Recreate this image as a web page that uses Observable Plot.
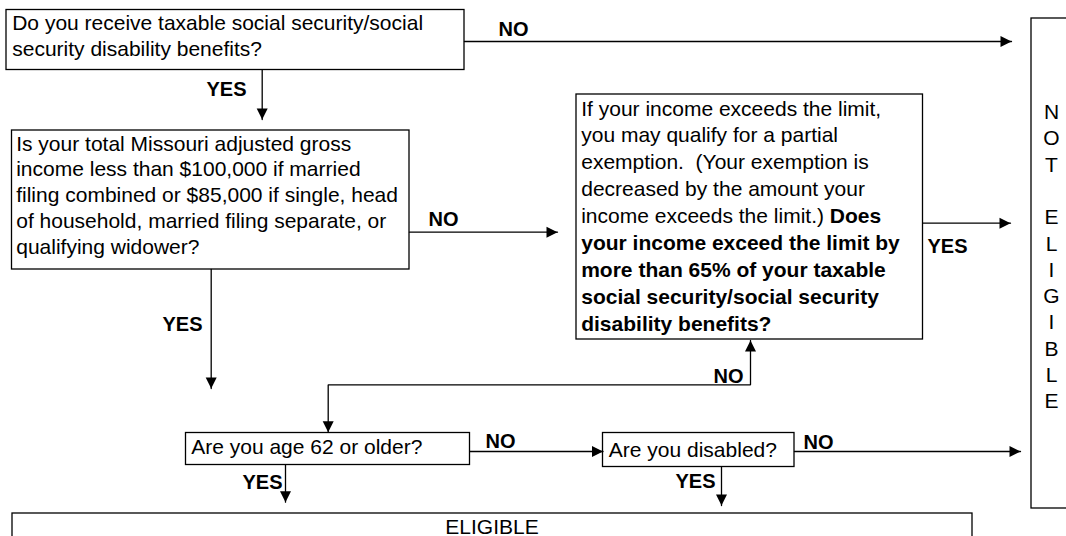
<!DOCTYPE html>
<html><head><meta charset="utf-8">
<script src="https://cdn.jsdelivr.net/npm/d3@7"></script>
<script src="https://cdn.jsdelivr.net/npm/@observablehq/plot@0.6"></script>
<style>
html,body{margin:0;padding:0;background:#fff;}
#chart svg{display:block;overflow:hidden;}
</style></head><body><div id="chart"></div>
<script>
const FONT = "Arial, 'Liberation Sans', Helvetica, sans-serif";

// ---------- chart content (texts) ----------
const q1Lines = ["Do you receive taxable social security/social", "security disability benefits?"];
const q2Lines = ["Is your total Missouri adjusted gross", "income less than $100,000 if married",
  "filing combined or $85,000 if single, head", "of household, married filing separate, or", "qualifying widower?"];
const q3PlainLines = ["If your income exceeds the limit,", "you may qualify for a partial",
  "exemption.\u00a0 (Your exemption is", "decreased by the amount your", "income exceeds the limit.) "];
const q3BoldInline = "Does";
const q3BoldLines = ["your income exceed the limit by", "more than 65% of your taxable",
  "social security/social security", "disability benefits?"];
const q4Lines = ["Are you age 62 or older?"];
const q5Lines = ["Are you disabled?"];
const notEligibleLetters = ["N","O","T","","E","L","I","G","I","B","L","E"];
const eligibleText = "ELIGIBLE";
const answerLabels = ["NO","YES","NO","YES","YES","NO","NO","NO","YES","YES"];

// ---------- layout (chart coordinates) ----------
const boxLayout = [
  {x1: 6,     x2: 464,   y1: 9.5,   y2: 69.5},  // q1
  {x1: 11.5,  x2: 409,   y1: 130,   y2: 269},   // q2
  {x1: 576,   x2: 922.5, y1: 94,    y2: 339},   // q3
  {x1: 185.5, x2: 469.5, y1: 432.5, y2: 464.5}, // q4
  {x1: 602.5, x2: 794,   y1: 432.5, y2: 466.5}, // q5
  {x1: 1031,  x2: 1100,  y1: 18,    y2: 508},   // not eligible
  {x1: 12,    x2: 972,   y1: 513,   y2: 570}    // eligible
];
const blockLayout = [ // x, first baseline, line step
  {x: 11.7,  y: 29.5,  step: 25.8}, // q1
  {x: 15.7,  y: 150,   step: 25.8}, // q2
  {x: 580.7, y: 115,   step: 26.9}, // q3
  {x: 190.7, y: 453.5, step: 0},    // q4
  {x: 608.3, y: 456,   step: 0},    // q5
  {x: 1051,  y: 118.5, step: 26.3}, // not eligible (centered)
  {x: 491.5, y: 533,   step: 0}     // eligible (centered)
];
const connectorLayout = [
  {pts: [[464, 41], [1011, 41]], heads: ["end"]},
  {pts: [[261.7, 69.5], [261.7, 119]], heads: ["end"]},
  {pts: [[409, 231.7], [557, 231.7]], heads: ["end"]},
  {pts: [[210.7, 269], [210.7, 388]], heads: ["end"]},
  {pts: [[922.5, 222.7], [1010, 222.7]], heads: ["end"]},
  {pts: [[750, 340], [750, 384.3], [327.7, 384.3], [327.7, 431.7]], heads: ["start", "end"]},
  {pts: [[469.5, 451], [602.5, 451]], heads: ["end"]},
  {pts: [[794, 451], [1020, 451]], heads: ["end"]},
  {pts: [[285, 464.5], [285, 501.7]], heads: ["end"]},
  {pts: [[721, 466.5], [721, 505]], heads: ["end"]}
];
const labelLayout = [ // start x, baseline
  {x: 498, y: 35}, {x: 206, y: 95}, {x: 428, y: 225}, {x: 162, y: 330}, {x: 927, y: 252},
  {x: 713, y: 382.5}, {x: 485, y: 447.5}, {x: 803, y: 448}, {x: 242, y: 488}, {x: 675, y: 487}
];

// ---------- build tables ----------
const NORMAL_SIZE = 21, LABEL_SIZE = 20;
const ctx = document.createElement("canvas").getContext("2d");
ctx.font = `${NORMAL_SIZE}px ${FONT}`;

const plainRows = [], boldRows = [], centerRows = [];
function addBlock(lines, lay, target, start = 0) {
  lines.forEach((t, i) => { if (t) target.push({text: t, x: lay.x, y: lay.y + (i + start) * lay.step}); });
}
addBlock(q1Lines, blockLayout[0], plainRows);
addBlock(q2Lines, blockLayout[1], plainRows);
addBlock(q3PlainLines, blockLayout[2], plainRows);
const doesDx = ctx.measureText(q3PlainLines[4]).width;
const doesRow = [{text: q3BoldInline, x: blockLayout[2].x, y: blockLayout[2].y + 4 * blockLayout[2].step}];
addBlock(q3BoldLines, blockLayout[2], boldRows, 5);
addBlock(q4Lines, blockLayout[3], plainRows);
addBlock(q5Lines, blockLayout[4], plainRows);
addBlock(notEligibleLetters, blockLayout[5], centerRows);
addBlock([eligibleText], blockLayout[6], centerRows);

const labels = answerLabels.map((t, i) => ({text: t, ...labelLayout[i]}));

const linePts = [];
const heads = [];
connectorLayout.forEach((c, k) => {
  c.pts.forEach(([x, y]) => linePts.push({x, y, k}));
  const n = c.pts.length;
  const dir = (a, b) => Math.atan2(b[0] - a[0], -(b[1] - a[1])) * 180 / Math.PI;
  if (c.heads.includes("end")) heads.push({x: c.pts[n-1][0], y: c.pts[n-1][1], a: dir(c.pts[n-2], c.pts[n-1])});
  if (c.heads.includes("start")) heads.push({x: c.pts[0][0], y: c.pts[0][1], a: dir(c.pts[1], c.pts[0])});
});

const arrowHead = {
  draw(context, size) {
    const r = Math.sqrt(size / Math.PI);
    context.moveTo(0, 0);
    context.lineTo(-r, 2 * r);
    context.lineTo(r, 2 * r);
    context.closePath();
  }
};

const STROKE = "#000", SW = 1.3;

const chart = Plot.plot({
  width: 1066, height: 536, margin: 0,
  x: {domain: [0, 1066], range: [0, 1066], axis: null},
  y: {domain: [0, 536], range: [0, 536], axis: null},
  style: {background: "#fff", fontFamily: FONT},
  marks: [
    Plot.rect(boxLayout, {x1: "x1", x2: "x2", y1: "y1", y2: "y2", fill: "#fff", stroke: STROKE, strokeWidth: SW, clip: true}),
    Plot.line(linePts, {x: "x", y: "y", z: "k", stroke: STROKE, strokeWidth: SW, curve: "linear", strokeLinejoin: "miter"}),
    Plot.dot(heads, {x: "x", y: "y", rotate: "a", symbol: arrowHead, r: 5.5, fill: STROKE, stroke: "none"}),
    Plot.text(plainRows, {x: "x", y: "y", text: "text", textAnchor: "start", lineAnchor: "bottom", fontSize: NORMAL_SIZE, fontFamily: FONT, fill: "#000"}),
    Plot.text(doesRow, {x: "x", y: "y", text: "text", dx: doesDx, textAnchor: "start", lineAnchor: "bottom", fontSize: NORMAL_SIZE, fontWeight: "bold", fontFamily: FONT, fill: "#000"}),
    Plot.text(boldRows, {x: "x", y: "y", text: "text", textAnchor: "start", lineAnchor: "bottom", fontSize: NORMAL_SIZE, fontWeight: "bold", fontFamily: FONT, fill: "#000"}),
    Plot.text(centerRows, {x: "x", y: "y", text: "text", textAnchor: "middle", lineAnchor: "bottom", fontSize: NORMAL_SIZE, fontFamily: FONT, fill: "#000"}),
    Plot.text(labels, {x: "x", y: "y", text: "text", textAnchor: "start", lineAnchor: "bottom", fontSize: LABEL_SIZE, fontWeight: "bold", fontFamily: FONT, fill: "#000"})
  ]
});
document.getElementById("chart").appendChild(chart);
</script>
</body></html>
